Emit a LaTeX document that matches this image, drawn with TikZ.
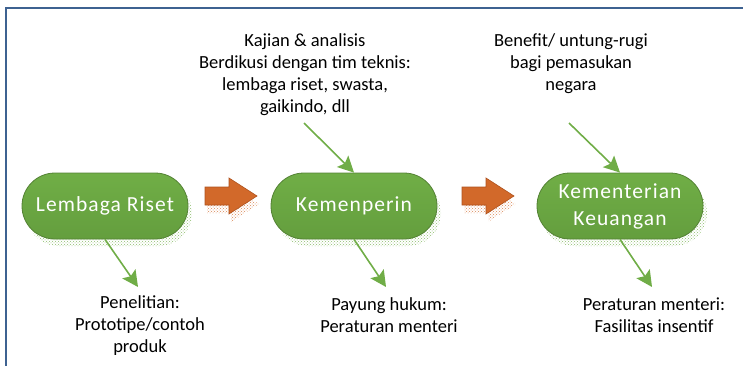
\documentclass[tikz,border=0pt]{standalone}
\usepackage{fontspec}
\setmainfont{Carlito}
\newfontfamily\pillfont{Carlito}[LetterSpace=5]
\usetikzlibrary{arrows.meta,shadows,patterns}
\definecolor{pillgreen}{RGB}{100,158,62}
\definecolor{pilldark}{RGB}{84,130,53}
\definecolor{pilltop}{RGB}{112,174,70}
\definecolor{linegreen}{RGB}{112,173,71}
\definecolor{arroworange}{RGB}{210,105,42}
\definecolor{orangedark}{RGB}{174,82,30}
\definecolor{framblue}{RGB}{62,98,145}
\begin{document}
\begin{tikzpicture}[x=1pt,y=-1pt]
\tikzstyle{pill}=[draw=pilldark, line width=0.8pt, top color=pilltop, bottom color=pillgreen,
  rounded corners=33pt, minimum width=166pt, minimum height=66pt, inner sep=2pt,
  text=white, align=center, font=\pillfont\fontsize{21.5}{27}\selectfont,
  drop shadow={shadow xshift=4pt, shadow yshift=-7pt, opacity=1, pattern=crosshatch dots, pattern color=linegreen!80}]
\tikzstyle{note}=[align=center, inner sep=0pt, font=\fontsize{18.5}{22}\selectfont]
\tikzstyle{link}=[draw=linegreen, line width=1.6pt, -{Stealth[length=16pt,width=16pt,inset=3pt]}]
\tikzstyle{fat}=[draw=orangedark, fill=arroworange, line width=0.6pt]
\useasboundingbox (0,0) rectangle (743,366);
% frame
\draw[framblue, line width=2.2pt] (745,8) -- (6,8) -- (6,368);
% main steps
\node[pill] (riset) at (105,206) {Lembaga Riset};
\node[pill] (perin) at (354,206) {Kemenperin};
\node[pill] (keu) at (620,206) {Kementerian\\Keuangan};
% notes
\node[note] (kajian) at (305,75) {Kajian \& analisis\\Berdikusi dengan tim teknis:\\lembaga riset, swasta,\\gaikindo, dll};
\node[note] (benefit) at (571,64) {Benefit/ untung-rugi\\bagi pemasukan\\negara};
\node[note] (penelitian) at (140,326) {Penelitian:\\Prototipe/contoh\\produk};
\node[note] (payung) at (389,315) {Payung hukum:\\Peraturan menteri};
\node[note] (fasilitas) at (654,315) {Peraturan menteri:\\Fasilitas insentif};
% free ends
\coordinate (k1) at (304,123);
\coordinate (b1) at (569,123);
\coordinate (p1) at (138,287);
\coordinate (h1) at (386,287);
\coordinate (f1) at (652,287);
\draw[link] (k1) -- (perin.north);
\draw[link] (b1) -- (keu.north);
\draw[link] (riset.south) -- (p1);
\draw[link] (perin.south) -- (h1);
\draw[link] (keu.south) -- (f1);
% orange arrows
\foreach \x in {205,462}{
  \fill[pattern=crosshatch dots, pattern color=arroworange!80, shift={(\x+2,202)}]
    (0,-7) -- (24,-7) -- (24,-16) -- (52,2) -- (24,20) -- (24,11) -- (0,11) -- cycle;
  \draw[fat, shift={(\x,196)}]
    (0,-9) -- (24,-9) -- (24,-18) -- (52,0) -- (24,18) -- (24,9) -- (0,9) -- cycle;
}
\end{tikzpicture}
\end{document}
